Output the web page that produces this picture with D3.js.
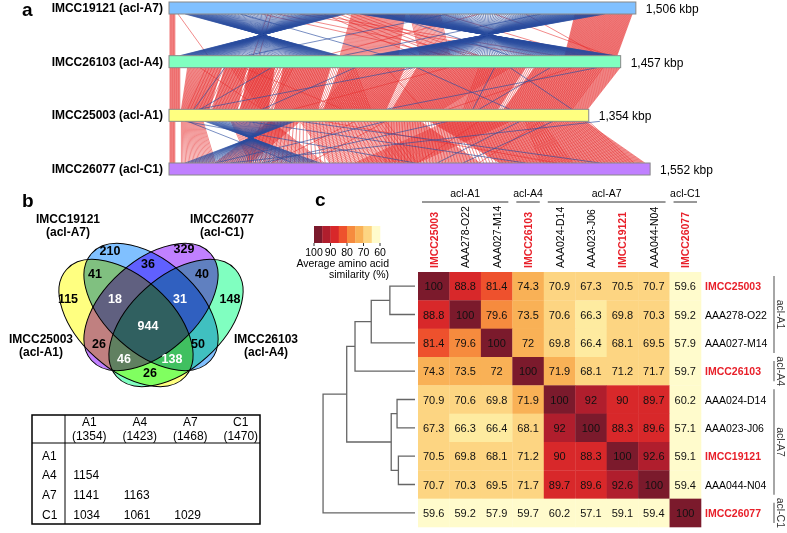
<!DOCTYPE html>
<meta charset="utf-8">
<style>
body { margin: 0; background: #fff; }
svg { font-family: "Liberation Sans", Arial, sans-serif; }
.venn-fill ellipse { mix-blend-mode: multiply; }
</style>
<body>
<svg width="787" height="533"></svg>
<script src="https://d3js.org/d3.v7.min.js"></script>
<script>
// ---------- panel a : genome synteny ----------
var genomeNames = ["IMCC19121 (acl-A7)", "IMCC26103 (acl-A4)", "IMCC25003 (acl-A1)", "IMCC26077 (acl-C1)"];
var genomeSizes = [1506, 1457, 1354, 1552]; // kbp
var genomeColors = ["#80c0ff", "#80ffc0", "#ffff80", "#c080ff"];

// matched segments between neighbouring genomes, kbp: [topStart, topEnd, bottomStart, bottomEnd, lines]
var fwdA7A4 = [[3, 19, 3, 19, 8], [590, 761, 552, 739, 60], [777, 874, 810, 906, 25], [1310, 1494, 1277, 1445, 90],
  [29, 29, 126, 126, 1], [319, 319, 271, 271, 1], [300, 300, 900, 900, 1], [350, 350, 1000, 1000, 1],
  [420, 420, 1180, 1180, 1], [1000, 1000, 500, 500, 1], [1150, 1150, 1390, 1390, 1], [880, 880, 1330, 1330, 1],
  [330, 330, 290, 290, 1], [460, 460, 1250, 1250, 1], [1050, 1050, 1420, 1420, 1], [500, 620, 800, 1000, 6]];
var revA7A4 = [[52, 568, 550, 35, 110], [616, 1406, 1439, 648, 130], [700, 700, 1100, 1100, 1], [230, 230, 700, 700, 1],
  [900, 900, 250, 250, 1], [1200, 1200, 560, 560, 1]];

var fwdA4A1 = [[3, 35, 3, 35, 16], [60, 170, 40, 130, 45], [180, 250, 140, 220, 35], [260, 340, 230, 320, 50],
  [370, 520, 340, 480, 70], [550, 760, 500, 700, 90], [800, 1150, 720, 1060, 140], [1180, 1455, 1080, 1350, 120],
  [200, 600, 300, 650, 50], [600, 1100, 480, 880, 60], [1000, 1400, 950, 1300, 60], [120, 400, 60, 330, 30],
  [240, 240, 560, 560, 1], [900, 900, 400, 400, 1], [1300, 1300, 900, 900, 1], [100, 100, 300, 300, 1], [700, 700, 820, 820, 1]];
var revA4A1 = [[180, 180, 80, 80, 1], [800, 800, 1100, 1100, 1], [1230, 1230, 1000, 1000, 1], [1100, 1100, 1300, 1300, 1],
  [330, 330, 100, 100, 1], [600, 600, 300, 300, 1], [790, 790, 94, 94, 1], [1380, 1380, 700, 700, 1], [1050, 1050, 980, 980, 1]];

var fwdA1C1 = [[3, 19, 3, 19, 8], [40, 110, 40, 150, 25], [200, 330, 260, 500, 45], [423, 810, 519, 1003, 100],
  [842, 1342, 1068, 1535, 130], [326, 423, 148, 261, 30], [300, 700, 250, 800, 40], [700, 1200, 700, 1300, 60],
  [900, 1100, 600, 800, 25], [1150, 1354, 1200, 1500, 30],
  [600, 600, 330, 330, 1], [700, 700, 450, 450, 1], [1000, 1000, 800, 800, 1], [1200, 1200, 1000, 1000, 1], [500, 500, 1250, 1250, 1]];
var revA1C1 = [[116, 406, 487, 52, 60], [52, 52, 794, 794, 1], [1132, 1132, 865, 865, 1], [1239, 1239, 948, 948, 1],
  [423, 423, 1390, 1390, 1], [1390, 1390, 197, 197, 1], [250, 250, 1150, 1150, 1], [900, 900, 300, 300, 1],
  [60, 60, 400, 400, 1], [700, 700, 150, 150, 1]];

// ---------- panel b : Venn + shared genes ----------
var vennNames = ["IMCC25003", "IMCC19121", "IMCC26077", "IMCC26103"];
var vennClades = ["(acl-A1)", "(acl-A7)", "(acl-C1)", "(acl-A4)"];
var vennColors = ["#ffff80", "#80c0ff", "#c080ff", "#80ffc0"];
var vennRegions = ["A7", "C1", "A7C1", "A1A7", "C1A4", "A1", "A1A7C1", "A7C1A4", "A4", "all", "A1C1", "A7A4", "A1C1A4", "A1A7A4", "A1A4"];
var vennCounts = [210, 329, 36, 41, 40, 115, 18, 31, 148, 944, 26, 50, 46, 138, 26];

var tableCols = ["A1", "A4", "A7", "C1"];
var tableSizes = [1354, 1423, 1468, 1470];
var sharedCounts = [[], [1154], [1141, 1163], [1034, 1061, 1029]];

// ---------- panel c : AAI heatmap ----------
var strains = ["IMCC25003", "AAA278-O22", "AAA027-M14", "IMCC26103", "AAA024-D14", "AAA023-J06", "IMCC19121", "AAA044-N04", "IMCC26077"];
var isolates = ["IMCC25003", "IMCC26103", "IMCC19121", "IMCC26077"];
var aai = [
  [100, 88.8, 81.4, 74.3, 70.9, 67.3, 70.5, 70.7, 59.6],
  [88.8, 100, 79.6, 73.5, 70.6, 66.3, 69.8, 70.3, 59.2],
  [81.4, 79.6, 100, 72, 69.8, 66.4, 68.1, 69.5, 57.9],
  [74.3, 73.5, 72, 100, 71.9, 68.1, 71.2, 71.7, 59.7],
  [70.9, 70.6, 69.8, 71.9, 100, 92, 90, 89.7, 60.2],
  [67.3, 66.3, 66.4, 68.1, 92, 100, 88.3, 89.6, 57.1],
  [70.5, 69.8, 68.1, 71.2, 90, 88.3, 100, 92.6, 59.1],
  [70.7, 70.3, 69.5, 71.7, 89.7, 89.6, 92.6, 100, 59.4],
  [59.6, 59.2, 57.9, 59.7, 60.2, 57.1, 59.1, 59.4, 100]
];
var cladeNames = ["acl-A1", "acl-A4", "acl-A7", "acl-C1"];
var cladeRanges = [[0, 2], [3, 3], [4, 7], [8, 8]];
var legendTicks = [100, 90, 80, 70, 60];
var legendSteps = [100, 95, 90, 85, 80, 75, 70, 65];
var heatBreaks = [65, 67, 71.8, 77, 80.5, 85, 91, 96];
var heatColors = ["#fffbcc", "#feeba0", "#fdd582", "#f9b156", "#f68b3e", "#ee512d", "#d8282a", "#b01e2d", "#7b1a2c"];

var svg = d3.select("svg");

function panelLetter(t, x, y) {
  svg.append("text").attr("x", x).attr("y", y).text(t)
    .style("font-size", "19px").style("font-weight", "bold");
}

// ===== panel a =====
panelLetter("a", 22, 16);
var xg = d3.scaleLinear().domain([0, 1552]).range([169, 169 + 1552 * 0.31]);
var yg = d3.scalePoint().domain(d3.range(4)).range([8, 169]);
var barH = 12;

function blockLines(blocks) {
  var out = [];
  blocks.forEach(function(b) {
    var n = b[4];
    d3.range(n).forEach(function(k) {
      var t = n > 1 ? k / (n - 1) : 0;
      out.push([b[0] + t * (b[1] - b[0]), b[2] + t * (b[3] - b[2])]);
    });
  });
  return out;
}

var pairs = [[fwdA7A4, revA7A4], [fwdA4A1, revA4A1], [fwdA1C1, revA1C1]];
var gLinks = svg.append("g");
pairs.forEach(function(p, i) {
  var y1 = yg(i) + barH / 2, y2 = yg(i + 1) - barH / 2;
  gLinks.append("g").selectAll("line").data(blockLines(p[0])).enter().append("line")
    .attr("x1", function(d) { return xg(d[0]); }).attr("x2", function(d) { return xg(d[1]); })
    .attr("y1", y1).attr("y2", y2)
    .attr("stroke", "#e62e2e").attr("stroke-width", 0.8).attr("stroke-opacity", 0.7);
  gLinks.append("g").selectAll("line").data(blockLines(p[1])).enter().append("line")
    .attr("x1", function(d) { return xg(d[0]); }).attr("x2", function(d) { return xg(d[1]); })
    .attr("y1", y1).attr("y2", y2)
    .attr("stroke", "#2a4d9f").attr("stroke-width", 0.8).attr("stroke-opacity", 0.8);
});

var gBars = svg.append("g").selectAll("g").data(genomeNames).enter().append("g");
gBars.append("rect")
  .attr("x", xg(0)).attr("y", function(d, i) { return yg(i) - barH / 2; })
  .attr("width", function(d, i) { return xg(genomeSizes[i]) - xg(0); })
  .attr("height", barH)
  .attr("fill", function(d, i) { return genomeColors[i]; })
  .attr("stroke", "#888").attr("stroke-width", 1);
gBars.append("text")
  .attr("x", 163).attr("y", function(d, i) { return yg(i) + 4; })
  .attr("text-anchor", "end").style("font-size", "12px").style("font-weight", "bold")
  .text(function(d) { return d; });
gBars.append("text")
  .attr("x", function(d, i) { return xg(genomeSizes[i]) + 10; })
  .attr("y", function(d, i) { return yg(i) + 5; })
  .style("font-size", "12px")
  .text(function(d, i) { return d3.format(",")(genomeSizes[i]) + " kbp"; });

// ===== panel b =====
panelLetter("b", 22, 207);
var vx = 151;
var ellipses = [
  { cx: vx - 25, cy: 323, rot: 42 },
  { cx: vx, cy: 307, rot: 42 },
  { cx: vx, cy: 307, rot: -42 },
  { cx: vx + 25, cy: 323, rot: -42 }
];
var gFill = svg.append("g").attr("class", "venn-fill").style("isolation", "isolate");
gFill.selectAll("ellipse").data(ellipses).enter().append("ellipse")
  .attr("rx", 80).attr("ry", 46)
  .attr("transform", function(d) { return "translate(" + d.cx + "," + d.cy + ") rotate(" + d.rot + ")"; })
  .attr("fill", function(d, i) { return vennColors[i]; });
svg.append("g").selectAll("ellipse").data(ellipses).enter().append("ellipse")
  .attr("rx", 80).attr("ry", 46)
  .attr("transform", function(d) { return "translate(" + d.cx + "," + d.cy + ") rotate(" + d.rot + ")"; })
  .attr("fill", "none").attr("stroke", "#000").attr("stroke-width", 1);

var regionPos = {
  A7: [110, 250], C1: [184, 248], A7C1: [148, 263], A1A7: [95, 273], C1A4: [202, 273],
  A1: [68, 298], A1A7C1: [115, 298], A7C1A4: [180, 298], A4: [230, 298], all: [148, 325],
  A1C1: [99, 343], A7A4: [198, 343], A1C1A4: [124, 358], A1A7A4: [172, 358], A1A4: [150, 372]
};
var whiteRegions = ["A1A7C1", "A7C1A4", "all", "A1C1A4", "A1A7A4"];
svg.append("g").selectAll("text").data(vennRegions).enter().append("text")
  .attr("x", function(d) { return regionPos[d][0]; })
  .attr("y", function(d) { return regionPos[d][1] + 4.5; })
  .attr("text-anchor", "middle").style("font-size", "12.5px").style("font-weight", "bold")
  .attr("fill", function(d) { return whiteRegions.indexOf(d) >= 0 ? "#fff" : "#000"; })
  .text(function(d, i) { return vennCounts[i]; });

var setLabelPos = [[41, 343], [68, 223], [222, 223], [266, 343]];
var gSet = svg.append("g").selectAll("text").data(vennNames).enter().append("text")
  .attr("text-anchor", "middle").style("font-size", "12px").style("font-weight", "bold")
  .attr("transform", function(d, i) { return "translate(" + setLabelPos[i][0] + "," + setLabelPos[i][1] + ")"; });
gSet.append("tspan").attr("x", 0).attr("y", 0).text(function(d) { return d; });
gSet.append("tspan").attr("x", 0).attr("y", 13).text(function(d, i) { return vennClades[i]; });

// shared genes table
var tb = svg.append("g");
var tx = d3.scaleBand().domain(tableCols).range([64, 266]);
var ty = d3.scalePoint().domain(tableCols).range([455, 514]);
tb.append("rect").attr("x", 32).attr("y", 415).attr("width", 228).attr("height", 109)
  .attr("fill", "none").attr("stroke", "#000").attr("stroke-width", 1.5);
tb.append("line").attr("x1", 32).attr("x2", 260).attr("y1", 443).attr("y2", 443).attr("stroke", "#000");
tb.append("line").attr("x1", 65).attr("x2", 65).attr("y1", 415).attr("y2", 524).attr("stroke", "#000");
tableCols.forEach(function(c, j) {
  var cxm = tx(c) + tx.bandwidth() / 2;
  tb.append("text").attr("x", cxm).attr("y", 426).attr("text-anchor", "middle").style("font-size", "12px").text(c);
  tb.append("text").attr("x", cxm).attr("y", 440).attr("text-anchor", "middle").style("font-size", "12px").text("(" + tableSizes[j] + ")");
  tb.append("text").attr("x", 42).attr("y", ty(c) + 4.5).style("font-size", "12px").text(c);
  sharedCounts[j].forEach(function(v, k) {
    tb.append("text").attr("x", tx(tableCols[k]) + tx.bandwidth() / 2 - 16).attr("y", ty(c) + 4.5)
      .style("font-size", "12px").text(v);
  });
});

// ===== panel c =====
panelLetter("c", 315, 206);
var hx = d3.scaleBand().domain(d3.range(9)).range([418, 701]);
var hy = d3.scaleBand().domain(d3.range(9)).range([272, 527]);
var color = d3.scaleThreshold().domain(heatBreaks).range(heatColors);

var cells = [];
aai.forEach(function(row, i) { row.forEach(function(v, j) { cells.push({ i: i, j: j, v: v }); }); });
var gCells = svg.append("g").selectAll("g").data(cells).enter().append("g");
gCells.append("rect")
  .attr("x", function(d) { return hx(d.j); }).attr("y", function(d) { return hy(d.i); })
  .attr("width", hx.bandwidth() + 0.3).attr("height", hy.bandwidth() + 0.3)
  .attr("fill", function(d) { return color(d.v); });
gCells.append("text")
  .attr("x", function(d) { return hx(d.j) + hx.bandwidth() / 2; })
  .attr("y", function(d) { return hy(d.i) + hy.bandwidth() / 2 + 4; })
  .attr("text-anchor", "middle").style("font-size", "11px").attr("fill", "#111")
  .text(function(d) { return d.v; });

function isIso(s) { return isolates.indexOf(s) >= 0; }
// column labels
svg.append("g").selectAll("text").data(strains).enter().append("text")
  .attr("transform", function(d, j) { return "translate(" + (hx(j) + hx.bandwidth() / 2 + 4) + ",268) rotate(-90)"; })
  .style("font-size", "10.5px").style("font-weight", function(d) { return isIso(d) ? "bold" : "normal"; })
  .attr("fill", function(d) { return isIso(d) ? "#e8202a" : "#000"; })
  .text(function(d) { return d; });
// row labels
svg.append("g").selectAll("text").data(strains).enter().append("text")
  .attr("x", 705).attr("y", function(d, i) { return hy(i) + hy.bandwidth() / 2 + 4; })
  .style("font-size", "10.5px").style("font-weight", function(d) { return isIso(d) ? "bold" : "normal"; })
  .attr("fill", function(d) { return isIso(d) ? "#e8202a" : "#000"; })
  .text(function(d) { return d; });

// clade brackets
cladeNames.forEach(function(c, k) {
  var r = cladeRanges[k];
  var x0 = hx(r[0]) + 4, x1 = hx(r[1]) + hx.bandwidth() - 4;
  svg.append("line").attr("x1", x0).attr("x2", x1).attr("y1", 202).attr("y2", 202).attr("stroke", "#333");
  svg.append("text").attr("x", (x0 + x1) / 2).attr("y", 197).attr("text-anchor", "middle")
    .style("font-size", "10.5px").text(c);
  var y0 = hy(r[0]) + 4, y1 = hy(r[1]) + hy.bandwidth() - 4;
  svg.append("line").attr("x1", 774).attr("x2", 774).attr("y1", y0).attr("y2", y1).attr("stroke", "#888").attr("stroke-width", 1.5);
  svg.append("text").attr("transform", "translate(777," + (y0 + y1) / 2 + ") rotate(90)")
    .attr("text-anchor", "middle").style("font-size", "10.5px").attr("fill", "#333").text(c);
});

// legend
var lx = d3.scaleLinear().domain([100, 60]).range([314, 380]);
var gl = svg.append("g");
gl.selectAll("rect").data(legendSteps).enter().append("rect")
  .attr("x", function(d) { return lx(d); }).attr("y", 226)
  .attr("width", lx(95) - lx(100) + 0.3).attr("height", 17)
  .attr("fill", function(d) { return color(d - 2.5); });
gl.selectAll("line").data(legendTicks).enter().append("line")
  .attr("x1", function(d) { return lx(d); }).attr("x2", function(d) { return lx(d); })
  .attr("y1", 243).attr("y2", 246).attr("stroke", "#333");
gl.selectAll("text.tick").data(legendTicks).enter().append("text").attr("class", "tick")
  .attr("x", function(d) { return lx(d); }).attr("y", 256).attr("text-anchor", "middle")
  .style("font-size", "10.5px").text(function(d) { return d; });
gl.append("text").attr("x", 389).attr("y", 267).attr("text-anchor", "end").style("font-size", "10.5px").text("Average amino acid");
gl.append("text").attr("x", 389).attr("y", 278).attr("text-anchor", "end").style("font-size", "10.5px").text("similarity (%)");

// dendrogram: average linkage on 100 - similarity
function upgma(mat) {
  var nodes = mat.map(function(r, i) { return { leaves: [i], h: 0, y: hy(i) + hy.bandwidth() / 2 }; });
  var links = [];
  while (nodes.length > 1) {
    var best = null;
    for (var a = 0; a < nodes.length; a++) for (var b = a + 1; b < nodes.length; b++) {
      var s = 0;
      nodes[a].leaves.forEach(function(p) { nodes[b].leaves.forEach(function(q) { s += 100 - mat[p][q]; }); });
      var dd = s / (nodes[a].leaves.length * nodes[b].leaves.length);
      if (!best || dd < best.d) best = { a: a, b: b, d: dd };
    }
    var na = nodes[best.a], nb = nodes[best.b];
    var m = { leaves: na.leaves.concat(nb.leaves), h: best.d, y: (na.y + nb.y) / 2 };
    links.push({ parent: m, kids: [na, nb] });
    nodes.splice(best.b, 1); nodes.splice(best.a, 1); nodes.push(m);
  }
  return links;
}
var dx = d3.scaleLinear().domain([0, 41]).range([415, 323]);
var gd = svg.append("g").attr("fill", "none").attr("stroke", "#666").attr("stroke-width", 1.3);
upgma(aai).forEach(function(l) {
  var px = dx(l.parent.h);
  gd.append("path").attr("d",
    "M" + dx(l.kids[0].h) + "," + l.kids[0].y + "H" + px + "V" + l.kids[1].y + "H" + dx(l.kids[1].h));
});
</script>
